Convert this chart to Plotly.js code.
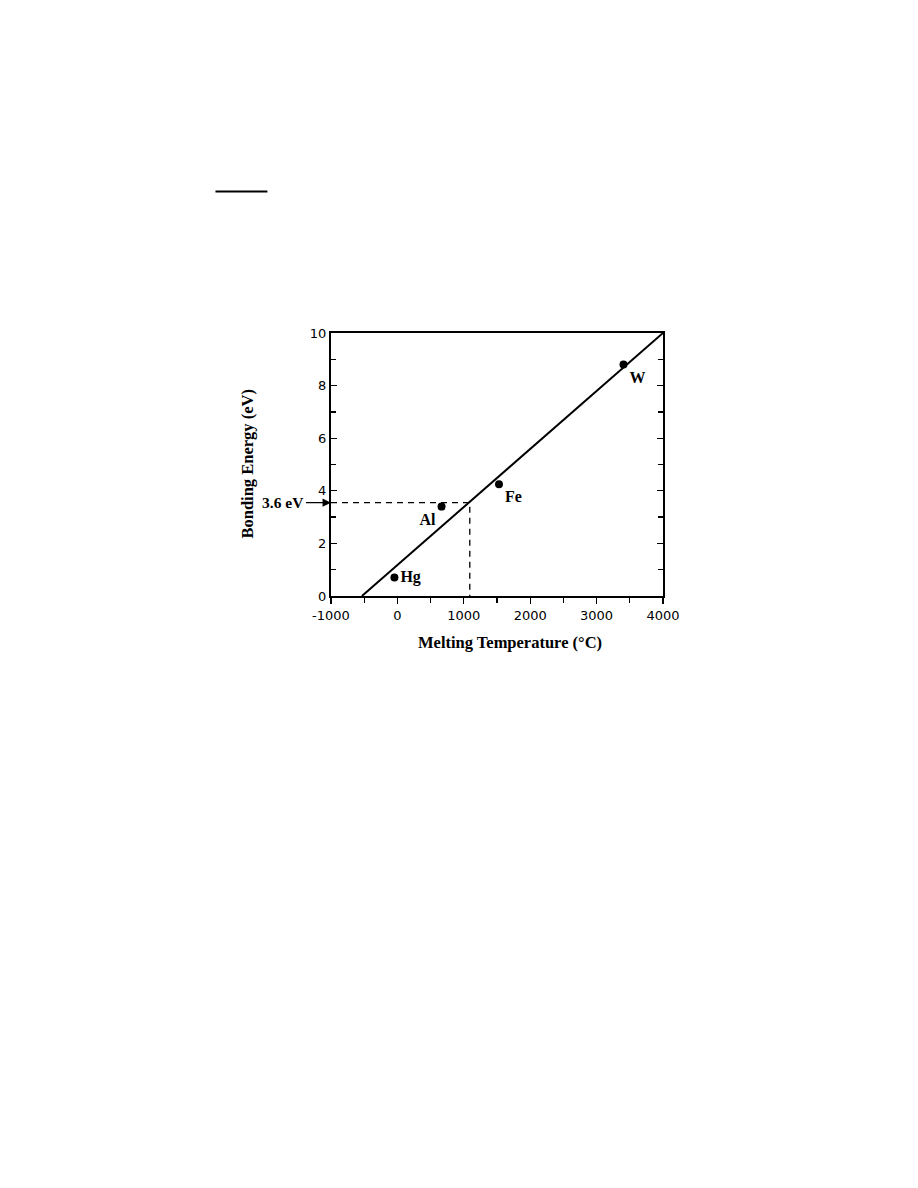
<!DOCTYPE html>
<html>
<head>
<meta charset="utf-8">
<script src="https://cdn.plot.ly/plotly-3.0.1.min.js"></script>
<style>html,body{margin:0;padding:0;background:#fff;}#chart{width:918px;height:1188px;}</style>
</head>
<body>
<div id="chart"></div>
<script>
// Data
const elements = ["Hg", "Al", "Fe", "W"];
const meltingTemp = [-45, 665, 1530, 3405];      // °C
const bondingEnergy = [0.7, 3.4, 4.25, 8.8];     // eV
const labelPositions = ["middle right", "bottom left", "bottom right", "bottom right"];

const fitTemp = [-534, 4000];
const fitEnergy = [0, 10];

const refLabel = "3.6 eV";
const refEnergy = 3.55;
const refTemp = 1090;
const guideTemp = [-1000, refTemp, refTemp];
const guideEnergy = [refEnergy, refEnergy, 0];

const xTickVals = [-1000, 0, 1000, 2000, 3000, 4000];
const yTickVals = [0, 2, 4, 6, 8, 10];
const xTitle = "Melting Temperature (°C)";
const yTitle = "Bonding Energy (eV)";

const serif = "Liberation Serif, Times New Roman, serif";
const sans = "DejaVu Sans, Arial, Helvetica, sans-serif";

const traces = [
  {
    x: fitTemp, y: fitEnergy, mode: "lines", type: "scatter",
    line: {color: "#000", width: 2}, hoverinfo: "skip", showlegend: false
  },
  {
    x: guideTemp, y: guideEnergy, mode: "lines", type: "scatter",
    line: {color: "#000", width: 1.3, dash: "6px,5px"}, hoverinfo: "skip", showlegend: false
  },
  {
    x: meltingTemp, y: bondingEnergy, text: elements, mode: "markers+text", type: "scatter",
    textposition: labelPositions,
    marker: {color: "#000", size: 8},
    textfont: {family: serif, size: 16, color: "#000", weight: "bold"},
    cliponaxis: false, showlegend: false
  }
];

const layout = {
  width: 918, height: 1188,
  margin: {l: 331, r: 255, t: 333, b: 592, pad: 0},
  paper_bgcolor: "#fff", plot_bgcolor: "#fff",
  showlegend: false,
  xaxis: {
    range: [-1000, 4000], tickvals: xTickVals, ticktext: xTickVals.map(String),
    ticks: "outside", ticklen: 6, tickwidth: 1.3, tickcolor: "#000",
    minor: {dtick: 500, tick0: 0, ticks: "outside", ticklen: 5, tickwidth: 1.3, tickcolor: "#000"},
    showline: true, linecolor: "#000", linewidth: 2, mirror: true,
    showgrid: false, zeroline: false,
    tickfont: {family: sans, size: 13, color: "#000"}
  },
  yaxis: {
    range: [0, 10], tickvals: yTickVals, ticktext: yTickVals.map(String),
    ticks: "inside", ticklen: 6, tickwidth: 1.3, tickcolor: "#000",
    minor: {dtick: 1, tick0: 0, ticks: "inside", ticklen: 5, tickwidth: 1.3, tickcolor: "#000"},
    showline: true, linecolor: "#000", linewidth: 2, mirror: "ticks",
    showgrid: false, zeroline: false,
    tickfont: {family: sans, size: 13, color: "#000"}
  },
  annotations: [
    {
      x: -1000, y: refEnergy, xref: "x", yref: "y",
      text: refLabel, showarrow: true, arrowhead: 2, arrowsize: 1.3, arrowwidth: 1.3, arrowcolor: "#000",
      ax: -25, ay: 0, xanchor: "right",
      font: {family: serif, size: 15.5, color: "#000", weight: "bold"}
    },
    {
      x: 0.538, y: -0.178, xref: "paper", yref: "paper", showarrow: false,
      text: xTitle, xanchor: "center", yanchor: "middle",
      font: {family: serif, size: 16.5, color: "#000", weight: "bold"}
    },
    {
      x: -0.253, y: 0.5, xref: "paper", yref: "paper", showarrow: false,
      text: yTitle, textangle: -90, xanchor: "center", yanchor: "middle",
      font: {family: serif, size: 16.5, color: "#000", weight: "bold"}
    }
  ],
  shapes: [
    {type: "line", xref: "paper", yref: "paper", x0: -0.348, x1: -0.1915, y0: 1.538, y1: 1.538,
     line: {color: "#000", width: 2}}
  ]
};

Plotly.newPlot("chart", traces, layout, {displayModeBar: false, staticPlot: true});
</script>
</body>
</html>
